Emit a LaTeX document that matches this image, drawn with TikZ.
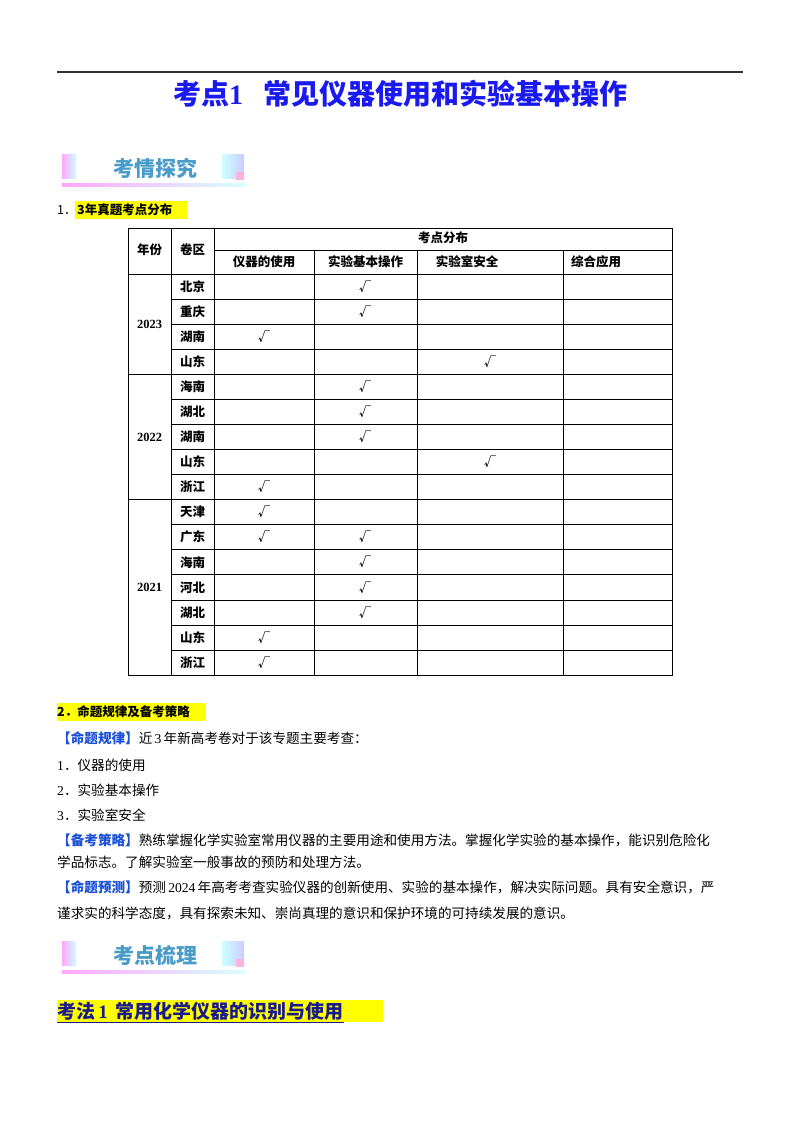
\documentclass[tikz,border=0pt]{standalone}
\usepackage{fontspec}
\setmainfont{Liberation Serif}
\newfontfamily\cjk{Noto Sans CJK SC}
\usetikzlibrary{calc}
\definecolor{ttl}{HTML}{1A1AF0}
\definecolor{lbl}{HTML}{1A4FD8}
\definecolor{badge}{HTML}{4A9CC8}
\definecolor{hl}{HTML}{FFFF00}
\definecolor{hd}{HTML}{1A1A8C}
\tikzset{
  body/.style={anchor=west,inner sep=0pt,font=\fontsize{13.6}{14}\selectfont\cjk},
  cell/.style={inner sep=0pt,font=\fontsize{12.5}{13}\selectfont\cjk\bfseries},
  chk/.style={inner sep=0pt,font=\fontsize{12}{13}\selectfont\cjk\bfseries},
  grid/.style={line width=0.8pt,black}
}
\newcommand{\badgebox}[3]{%
  \fill[left color=magenta!35,right color=cyan!20] (62,#1-14) rectangle (76,#1+10);
  \fill[left color=cyan!20,right color=blue!20] (222,#1-14) rectangle (244,#1+10);
  \fill[magenta!30] (236,#1+4) rectangle (244,#1+12);
  \fill[left color=magenta!35,right color=cyan!15] (62,#1+15) rectangle (245,#1+18);
  \node[inner sep=0pt,text=badge,font=\fontsize{21}{22}\selectfont\cjk\bfseries] (#3) at (155,#1) {#2};
}
\begin{document}
\begin{tikzpicture}[x=1pt,y=-1pt]
\useasboundingbox[fill=white] (0,0) rectangle (800,1132);
% top rule and title
\coordinate (rl) at (57,72); \coordinate (rr) at (743,72);
\draw[line width=1.2pt,black!80] (rl) -- (rr);
\node[inner sep=0pt,text=ttl,font=\fontsize{28}{30}\selectfont\cjk\bfseries] (title) at (400,94) {考点\textbf{\fontspec{Liberation Serif}1}\hspace{20pt}常见仪器使用和实验基本操作};
% badge 1
\badgebox{168}{考情探究}{b1}
% item 1
\fill[hl] (75,201) rectangle (187,219);
\node[body,font=\fontsize{12.5}{13}\selectfont\cjk] (i1) at (57,210) {1．};
\node[body,font=\fontsize{12.5}{13}\selectfont\cjk\bfseries] (i1t) at (77,210) {3年真题考点分布};
% table
\draw[grid] (128,228) rectangle (672,675);
\foreach \x in {171,214} \draw[grid] (\x,228) -- (\x,675);
\foreach \x in {314,417,563} \draw[grid] (\x,250) -- (\x,675);
\draw[grid] (214,250) -- (672,250);
\draw[grid] (128,274) -- (672,274);
\foreach \i in {1,...,15}{
  \pgfmathsetmacro{\yy}{274+25.07*\i}
  \ifnum\i=4 \draw[grid] (128,\yy) -- (672,\yy);
  \else\ifnum\i=9 \draw[grid] (128,\yy) -- (672,\yy);
  \else \draw[grid] (171,\yy) -- (672,\yy); \fi\fi
}
\node[cell] (hy) at (149.5,250) {年份};
\node[cell] (hr) at (192.5,250) {卷区};
\node[cell] (hk) at (443,238) {考点分布};
\node[cell] (c1) at (264,262) {仪器的使用};
\node[cell] (c2) at (365.5,262) {实验基本操作};
\node[cell] (c3) at (467,262) {实验室安全};
\node[cell,anchor=west] (c4) at (571,262) {综合应用};
\node[cell,font=\fontsize{12.5}{13}\selectfont\bfseries] (y23) at (149.5,324) {2023};
\node[cell,font=\fontsize{12.5}{13}\selectfont\bfseries] (y22) at (149.5,437) {2022};
\node[cell,font=\fontsize{12.5}{13}\selectfont\bfseries] (y21) at (149.5,587) {2021};
\foreach \n/\r/\cs in {北京/0/2,重庆/1/2,湖南/2/1,山东/3/3,海南/4/2,湖北/5/2,湖南/6/2,山东/7/3,浙江/8/1,天津/9/1,广东/10/{1,2},海南/11/2,河北/12/2,湖北/13/2,山东/14/1,浙江/15/1}{
  \pgfmathsetmacro{\yy}{286.5+25.07*\r}
  \node[cell] (p\r) at (192.5,\yy) {\n};
  \foreach \c in \cs {
    \ifnum\c=1 \node[chk] (k\r a) at (264,\yy) {√};\fi
    \ifnum\c=2 \node[chk] (k\r b) at (365,\yy) {√};\fi
    \ifnum\c=3 \node[chk] (k\r c) at (490,\yy) {√};\fi
  }
}
% item 2
\fill[hl] (57,703) rectangle (205,721);
\node[body,font=\fontsize{12.5}{13}\selectfont\cjk\bfseries] (i2) at (57,712) {2．命题规律及备考策略};
\node[body] (l1) at (57,738) {\textcolor{lbl}{\bfseries 【命题规律】}近\,{\rmfamily 3}\,年新高考卷对于该专题主要考查：};
\node[body] (l2) at (57,765) {{\rmfamily 1}．仪器的使用};
\node[body] (l3) at (57,790) {{\rmfamily 2}．实验基本操作};
\node[body] (l4) at (57,815) {{\rmfamily 3}．实验室安全};
\node[body] (l5) at (57,840) {\textcolor{lbl}{\bfseries 【备考策略】}熟练掌握化学实验室常用仪器的主要用途和使用方法。掌握化学实验的基本操作，能识别危险化};
\node[body] (l6) at (57,862) {学品标志。了解实验室一般事故的预防和处理方法。};
\node[body] (l7) at (57,887) {\textcolor{lbl}{\bfseries 【命题预测】}预测\,{\rmfamily 2024}\,年高考考查实验仪器的创新使用、实验的基本操作，解决实际问题。具有安全意识，严};
\node[body] (l8) at (57,913) {谨求实的科学态度，具有探索未知、崇尚真理的意识和保护环境的可持续发展的意识。};
% badge 2
\badgebox{955}{考点梳理}{b2}
% heading
\fill[hl] (57,1000) rectangle (383,1022);
\node[body,text=hd,font=\fontsize{19}{20}\selectfont\cjk\bfseries] (h1) at (57,1011) {考法\,{\rmfamily 1}\hspace{8pt}常用化学仪器的识别与使用};
\draw[hd,line width=1pt] (h1.south west) ++(0,2) -- ($(h1.south east)+(0,2)$);
\end{tikzpicture}
\end{document}
